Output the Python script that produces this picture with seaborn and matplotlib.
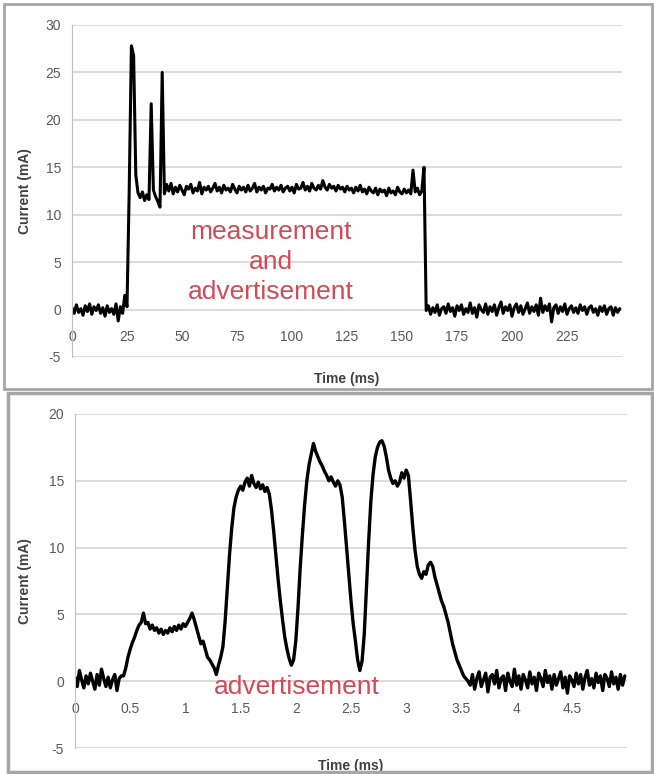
import numpy as np
import matplotlib
matplotlib.use("Agg")
import matplotlib.pyplot as plt
import seaborn as sns
from matplotlib.patches import Rectangle

sns.set_style("white")
plt.rcParams['font.family'] = ['Liberation Sans', 'DejaVu Sans']
plt.rcParams['axes.unicode_minus'] = False

top_step_ms = 1.0
top_idle_before = [0.2, -0.4, 0.5, -0.3, 0.1, -0.6, 0.4, -0.2, 0.6, -0.5,
                   0.3, -0.1, 0.5, -0.4, 0.2, -0.7, 0.4, -0.3, 0.1, -0.5,
                   0.6, -1.2, 0.3, -0.4, 1.5]
top_wakeup = [0.3, 12.5, 27.8, 26.8, 14.2, 12.3, 11.8, 12.4, 11.5, 12.1,
              11.6, 21.7, 12.6, 11.9, 11.4, 10.8, 25.0, 12.2, 13.2]
top_plateau = [12.5, 13.3, 12.2, 12.9, 12.4, 13.1, 12.6, 12.1, 13.0, 12.7,
               13.2, 12.3, 12.8, 12.5, 13.4, 12.2, 12.9, 12.6, 13.0, 12.4,
               12.8, 13.3, 12.5, 12.9, 12.3, 13.1, 12.6, 12.8, 12.4, 13.2,
               12.7, 12.3, 13.0, 12.6, 12.9, 12.4, 13.1, 12.5, 12.8, 13.3,
               12.4, 12.9, 12.6, 13.0, 12.3, 12.8, 12.7, 13.2, 12.5, 12.9,
               12.6, 13.1, 12.4, 12.8, 13.0, 12.5, 12.9, 12.3, 13.2, 12.7,
               12.8, 13.4, 12.6, 13.0, 12.5, 13.3, 12.8, 12.6, 13.1, 12.7,
               13.6, 12.9, 12.6, 13.2, 12.8, 13.0, 12.5, 13.1, 12.7, 12.9,
               12.4, 13.0, 12.6, 12.8, 12.3, 12.9, 12.5, 13.1, 12.4, 12.7,
               12.2, 12.9, 12.5, 12.3, 12.8, 12.1, 12.7, 12.4, 12.6, 12.0,
               12.8, 12.3, 12.5, 12.1, 12.9, 12.4, 12.2, 12.7, 12.3, 12.6,
               12.2, 14.7, 12.4, 12.8, 12.1, 12.5, 15.0]
top_idle_after = [-0.1, 0.4, -0.5, 0.2, -0.3, 0.5, -0.6, 0.1, 0.3, -0.4,
                  0.6, -0.2, 0.2, -0.7, 0.4, -0.1, 0.5, -0.5, 0.1, -0.3,
                  0.7, -0.4, 0.2, -0.8, 0.5, 0.0, -0.3, 0.6, -0.5, 0.3,
                  -0.2, 0.5, -0.6, 0.2, 0.8, -0.4, 0.3, -0.1, 0.5, -0.7,
                  0.2, 0.6, -0.3, 0.4, -0.5, 0.1, 0.7, -0.4, 0.3, -0.2,
                  0.5, -0.6, 1.2, -0.3, 0.4, -0.1, 0.6, -1.3, 0.2, 0.5,
                  -0.4, 0.3, -0.2, 0.6, -0.5, 0.1, 0.4, -0.3, 0.2, -0.4,
                  0.5, -0.1, 0.3, -0.5, 0.2, 0.4, -0.3, 0.1, -0.6, 0.3,
                  -0.2, 0.4, -0.5, 0.1, 0.3, -0.6, 0.2, -0.3, 0.1]

# ---- data: bottom trace, sampled every 0.02 ms ----
bot_step_ms = 0.02
bot_idle_before = [0.3, -0.4, 0.8, 0.1, -0.5, 0.4, -0.2, 0.6, 0.0, -0.6, 0.5,
                   -0.3, 0.9, 0.2, -0.4, 0.3, -0.5, 0.1, 0.5, -0.7, 0.2, 0.4]
bot_advert = [0.4, 1.0, 1.8, 2.4, 2.9, 3.3, 3.8, 4.2, 4.4, 5.1, 4.3,
              4.4, 3.9, 4.2, 3.8, 4.0, 3.6, 3.9, 3.5, 3.8, 3.6, 4.0, 3.7,
              4.1, 3.8, 4.2, 3.9, 4.3, 4.1,
              4.4, 4.7, 5.1, 4.6,
              4.0, 3.4, 2.8, 3.0, 2.4, 1.8, 1.6, 1.3, 1.0, 0.5, 1.2,
              1.8, 2.6, 4.5, 7.0, 9.5, 11.5, 13.0, 13.8, 14.3, 14.6,
              14.3, 14.9, 15.2, 14.6, 15.4, 14.8, 14.5, 14.9, 14.4, 14.7, 14.2, 14.5,
              14.0, 12.8, 11.2, 9.4, 7.6, 6.0, 4.6, 3.3, 2.4, 1.7, 1.2, 1.6,
              3.0, 5.5, 8.5, 11.0, 13.2, 15.0, 16.2, 17.0, 17.8, 17.2,
              16.8, 16.4, 16.1, 15.7, 15.4, 15.0, 15.3, 14.9, 14.6, 15.0, 14.7,
              13.8, 12.0, 10.0, 8.0, 6.0, 4.3, 3.0, 1.6, 0.8, 1.5,
              3.5, 7.0, 10.5, 13.5, 15.5, 16.8, 17.5, 17.9, 18.0, 17.6,
              16.8, 15.8, 15.2, 14.8, 15.0, 14.6, 14.9, 15.6, 15.2, 15.8,
              15.4, 13.5, 11.5, 9.8, 8.6, 8.0, 7.7, 8.2, 8.0, 8.7,
              8.9, 8.6, 7.8, 7.2, 6.6, 6.0, 5.6, 5.0, 4.4, 3.6,
              2.8, 2.2, 1.6, 1.2, 0.8, 0.4, 0.2, 0.0]
bot_idle_after = [-0.3, 0.5, -0.6, 0.2, 0.7, -0.4, 0.1, 0.6, -0.8, 0.3,
                  0.5, -0.2, 0.8, -0.5, 0.2, 0.4, -0.7, 0.6, 0.0, -0.4,
                  0.9, -0.3, 0.4, -0.6, 0.5, 0.1, -0.5, 0.7, -0.2, 0.3,
                  -0.7, 0.6, 0.2, -0.4, 0.8, -0.1, 0.4, -0.6, 0.5, -0.3,
                  0.2, 0.7, -0.5, 0.3, -0.9, 0.4, 0.1, -0.4, 0.6, -0.2,
                  0.5, -0.6, 0.3, 0.8, -0.3, 0.2, -0.5, 0.6, -0.1, 0.4,
                  -0.7, 0.5, 0.2, -0.4, 0.7, -0.2, 0.3, -0.6, 0.5, -0.3,
                  0.4]

top_ticks_x = [0, 25, 50, 75, 100, 125, 150, 175, 200, 225]
top_ticks_y = [-5, 0, 5, 10, 15, 20, 25, 30]
bot_ticks_x = [0, 0.5, 1, 1.5, 2, 2.5, 3, 3.5, 4, 4.5]
bot_tick_labels_x = ["0", "0.5", "1", "1.5", "2", "2.5", "3", "3.5", "4", "4.5"]
bot_ticks_y = [-5, 0, 5, 10, 15, 20]

top_current = np.array(top_idle_before + top_wakeup + top_plateau + top_idle_after)
top_time = np.arange(len(top_current)) * top_step_ms
bot_current = np.array(bot_idle_before + bot_advert + bot_idle_after)
bot_time = np.arange(len(bot_current)) * bot_step_ms

RED = '#d04a58'
GRID = '#d9d9d9'
TICK = '#595959'

fig = plt.figure(figsize=(6.54, 7.74), dpi=100)

# panel frames (like two pasted Excel charts)
fig.add_artist(Rectangle((4/654, 1 - 389/774), 648/654, 385/774, transform=fig.transFigure,
                         fill=False, edgecolor='#a6a6a6', lw=2))
fig.add_artist(Rectangle((8/654, 0.002), 644/654, 1 - 393/774 - 0.002, transform=fig.transFigure,
                         fill=False, edgecolor='#a6a6a6', lw=2.5))

ax1 = fig.add_axes([72/654, 1 - 357/774, 550/654, 332/774])
ax2 = fig.add_axes([75/654, 1 - 748/774, 552/654, 334/774])


def style_axis(ax, xticks, yticks, xlim, ylim, xticklabels=None):
    ax.set_xlim(*xlim)
    ax.set_ylim(*ylim)
    ax.set_yticks(yticks)
    ax.set_xticks(xticks)
    if xticklabels is not None:
        ax.set_xticklabels(xticklabels)
    ax.yaxis.grid(True, color=GRID, lw=1.3)
    ax.xaxis.grid(False)
    for s in ['top', 'right']:
        ax.spines[s].set_visible(False)
    ax.spines['left'].set_color('#bfbfbf')
    ax.spines['bottom'].set_position(('data', 0))
    ax.spines['bottom'].set_visible(False)
    ax.tick_params(axis='y', length=4, color='#bfbfbf', labelsize=10, labelcolor=TICK, pad=4)
    ax.tick_params(axis='x', length=0, labelsize=10, labelcolor=TICK, pad=15)
    ax.set_xlabel("Time (ms)", fontsize=10, fontweight='bold', color='#404040')
    ax.set_ylabel("Current (mA)", fontsize=10, fontweight='bold', color='#404040')


sns.lineplot(x=top_time, y=top_current, ax=ax1, color='black', linewidth=2.2, estimator=None)
style_axis(ax1, top_ticks_x, top_ticks_y, (0, 250), (-5, 30))
ax1.xaxis.set_label_coords(0.5, -0.045)
ax1.yaxis.set_label_coords(-0.073, 0.5)
ax1.text(90.5, 5.0, "measurement\nand\nadvertisement", color=RED, fontsize=19,
         ha='center', va='center', linespacing=1.3)

sns.lineplot(x=bot_time, y=bot_current, ax=ax2, color='black', linewidth=2.4, estimator=None)
style_axis(ax2, bot_ticks_x, bot_ticks_y, (0, 5), (-5, 20), bot_tick_labels_x)
ax2.xaxis.set_label_coords(0.5, -0.033)
ax2.yaxis.set_label_coords(-0.078, 0.5)
ax2.text(2.01, -0.45, "advertisement", color=RED, fontsize=19, ha='center', va='center')

fig.savefig("out.png", dpi=100)
